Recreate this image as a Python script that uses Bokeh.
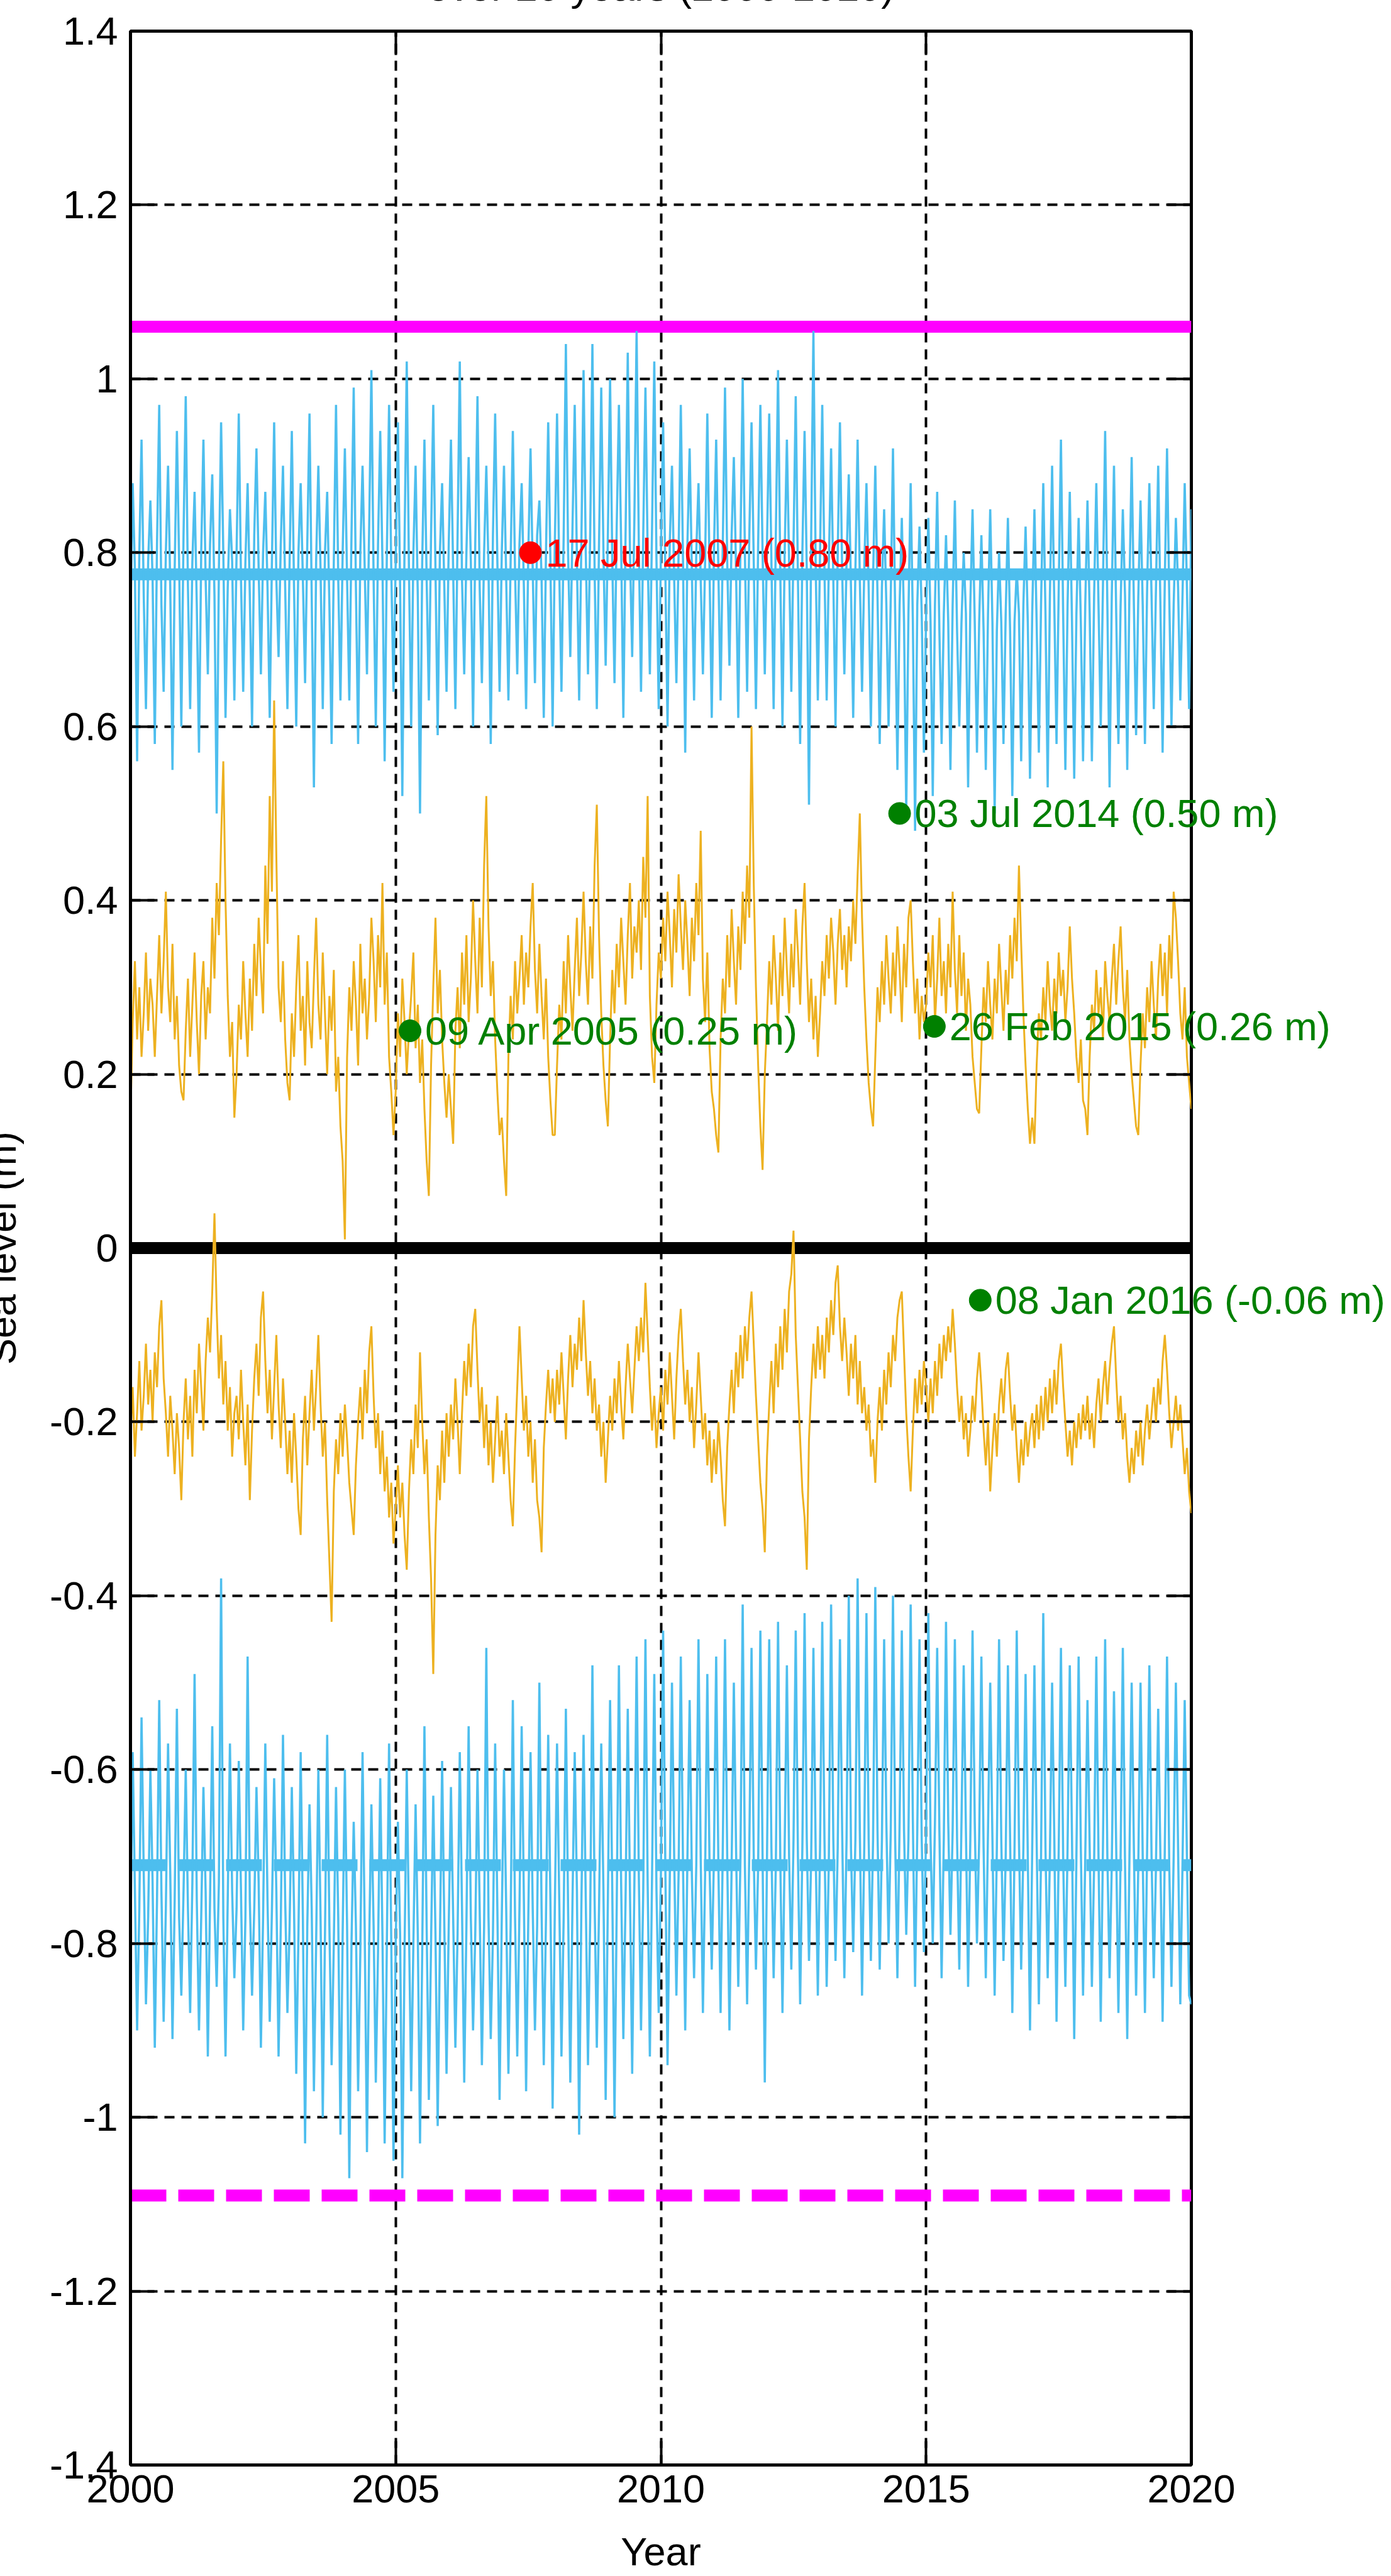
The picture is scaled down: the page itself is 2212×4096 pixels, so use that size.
import numpy as np
from bokeh.plotting import figure
from bokeh.models import (Range1d, FixedTicker, Span, ColumnDataSource, LinearAxis)
from bokeh.core.properties import value
from bokeh.embed import file_html
from bokeh.resources import INLINE

# ---------------- data ----------------
X_TICKS = [2000, 2005, 2010, 2015, 2020]
X_TICK_LABELS = ["2000", "2005", "2010", "2015", "2020"]
Y_TICKS = [-1.4, -1.2, -1.0, -0.8, -0.6, -0.4, -0.2, 0, 0.2, 0.4, 0.6, 0.8, 1.0, 1.2, 1.4]
Y_TICK_LABELS = ["-1.4", "-1.2", "-1", "-0.8", "-0.6", "-0.4", "-0.2", "0",
                 "0.2", "0.4", "0.6", "0.8", "1", "1.2", "1.4"]

START_YEAR = 2000
SAMPLES_PER_YEAR = 24

# upper cyan series (m), one row per year
UPPER_CYAN = [
    0.72, 0.88, 0.78, 0.56, 0.80, 0.93, 0.75, 0.62, 0.79, 0.86, 0.77, 0.58, 0.81, 0.97, 0.74, 0.64, 0.80, 0.90, 0.76, 0.55, 0.78, 0.94, 0.79, 0.60,
    0.82, 0.98, 0.76, 0.62, 0.79, 0.87, 0.74, 0.57, 0.80, 0.93, 0.77, 0.66, 0.81, 0.89, 0.75, 0.50, 0.78, 0.95, 0.80, 0.61, 0.76, 0.85, 0.79, 0.63,
    0.80, 0.96, 0.77, 0.64, 0.79, 0.88, 0.75, 0.60, 0.82, 0.92, 0.78, 0.66, 0.80, 0.87, 0.76, 0.61, 0.79, 0.95, 0.77, 0.68, 0.81, 0.90, 0.76, 0.62,
    0.79, 0.94, 0.76, 0.60, 0.80, 0.88, 0.77, 0.65, 0.81, 0.96, 0.75, 0.53, 0.79, 0.90, 0.78, 0.62, 0.80, 0.87, 0.74, 0.58, 0.79, 0.97, 0.77, 0.63,
    0.80, 0.92, 0.77, 0.63, 0.82, 0.99, 0.76, 0.58, 0.80, 0.90, 0.78, 0.66, 0.83, 1.01, 0.77, 0.60, 0.81, 0.94, 0.79, 0.56, 0.80, 0.97, 0.78, 0.64,
    0.79, 0.95, 0.76, 0.52, 0.81, 1.02, 0.78, 0.60, 0.80, 0.90, 0.75, 0.50, 0.79, 0.93, 0.77, 0.63, 0.82, 0.97, 0.78, 0.59, 0.80, 0.88, 0.76, 0.64,
    0.81, 0.93, 0.78, 0.62, 0.82, 1.02, 0.77, 0.66, 0.80, 0.91, 0.79, 0.60, 0.81, 0.98, 0.76, 0.65, 0.80, 0.90, 0.78, 0.58, 0.82, 0.96, 0.79, 0.64,
    0.80, 0.90, 0.77, 0.63, 0.79, 0.94, 0.78, 0.66, 0.81, 0.88, 0.76, 0.62, 0.80, 0.92, 0.78, 0.65, 0.82, 0.86, 0.77, 0.61, 0.80, 0.95, 0.79, 0.60,
    0.81, 0.96, 0.78, 0.64, 0.82, 1.04, 0.80, 0.68, 0.83, 0.97, 0.79, 0.63, 0.81, 1.01, 0.80, 0.66, 0.82, 1.04, 0.78, 0.62, 0.81, 0.99, 0.80, 0.67,
    0.82, 1.00, 0.79, 0.65, 0.83, 0.97, 0.81, 0.61, 0.82, 1.03, 0.80, 0.68, 0.84, 1.055, 0.81, 0.64, 0.82, 0.99, 0.80, 0.66, 0.83, 1.02, 0.79, 0.62,
    0.80, 0.95, 0.78, 0.60, 0.81, 0.90, 0.77, 0.65, 0.80, 0.97, 0.79, 0.57, 0.81, 0.92, 0.78, 0.63, 0.80, 0.88, 0.77, 0.66, 0.79, 0.96, 0.78, 0.61,
    0.80, 0.93, 0.78, 0.63, 0.81, 0.99, 0.79, 0.67, 0.82, 0.91, 0.78, 0.61, 0.81, 1.00, 0.80, 0.64, 0.82, 0.95, 0.79, 0.62, 0.81, 0.97, 0.80, 0.66,
    0.81, 0.96, 0.79, 0.62, 0.82, 1.01, 0.78, 0.60, 0.80, 0.93, 0.79, 0.64, 0.81, 0.98, 0.77, 0.58, 0.80, 0.94, 0.78, 0.51, 0.82, 1.055, 0.79, 0.63,
    0.80, 0.97, 0.78, 0.63, 0.79, 0.92, 0.77, 0.60, 0.80, 0.95, 0.78, 0.66, 0.79, 0.89, 0.76, 0.61, 0.78, 0.93, 0.77, 0.64, 0.78, 0.88, 0.76, 0.60,
    0.77, 0.90, 0.75, 0.58, 0.76, 0.85, 0.74, 0.60, 0.75, 0.92, 0.73, 0.55, 0.74, 0.84, 0.72, 0.50, 0.73, 0.88, 0.72, 0.48, 0.74, 0.83, 0.73, 0.57,
    0.73, 0.84, 0.72, 0.52, 0.74, 0.87, 0.71, 0.58, 0.73, 0.82, 0.72, 0.55, 0.74, 0.86, 0.71, 0.60, 0.72, 0.80, 0.73, 0.53, 0.74, 0.85, 0.72, 0.57,
    0.72, 0.82, 0.71, 0.55, 0.73, 0.85, 0.72, 0.50, 0.71, 0.80, 0.72, 0.58, 0.73, 0.84, 0.71, 0.52, 0.72, 0.78, 0.73, 0.56, 0.74, 0.83, 0.72, 0.54,
    0.73, 0.85, 0.72, 0.57, 0.74, 0.88, 0.73, 0.53, 0.75, 0.90, 0.74, 0.58, 0.76, 0.93, 0.73, 0.55, 0.74, 0.87, 0.72, 0.54, 0.73, 0.84, 0.72, 0.56,
    0.74, 0.86, 0.73, 0.56, 0.75, 0.88, 0.74, 0.60, 0.76, 0.94, 0.74, 0.53, 0.75, 0.90, 0.73, 0.58, 0.74, 0.85, 0.75, 0.55, 0.76, 0.91, 0.74, 0.59,
    0.75, 0.86, 0.74, 0.58, 0.76, 0.88, 0.75, 0.62, 0.76, 0.90, 0.74, 0.57, 0.77, 0.92, 0.75, 0.60, 0.74, 0.84, 0.76, 0.63, 0.75, 0.88, 0.76, 0.62,
    0.85,
]

# upper orange series (m)
UPPER_ORANGE = [
    0.15, 0.26, 0.33, 0.24, 0.30, 0.22, 0.27, 0.34, 0.25, 0.31, 0.28, 0.22, 0.29, 0.36, 0.27, 0.33, 0.41, 0.30, 0.26, 0.35, 0.24, 0.29, 0.21, 0.18,
    0.17, 0.25, 0.31, 0.22, 0.28, 0.34, 0.26, 0.20, 0.29, 0.33, 0.24, 0.30, 0.27, 0.38, 0.31, 0.42, 0.36, 0.47, 0.56, 0.40, 0.29, 0.22, 0.26, 0.15,
    0.20, 0.28, 0.24, 0.33, 0.27, 0.22, 0.31, 0.25, 0.35, 0.29, 0.38, 0.32, 0.27, 0.44, 0.35, 0.52, 0.41, 0.63, 0.45, 0.30, 0.26, 0.33, 0.24, 0.19,
    0.17, 0.27, 0.22, 0.30, 0.36, 0.25, 0.29, 0.21, 0.33, 0.26, 0.23, 0.31, 0.38, 0.28, 0.24, 0.34, 0.27, 0.20, 0.29, 0.25, 0.32, 0.18, 0.22, 0.14,
    0.10, 0.01, 0.22, 0.30, 0.25, 0.33, 0.28, 0.21, 0.35, 0.27, 0.31, 0.24, 0.29, 0.38, 0.33, 0.26, 0.36, 0.30, 0.42, 0.28, 0.34, 0.22, 0.18, 0.13,
    0.18, 0.27, 0.22, 0.31, 0.26, 0.20, 0.25, 0.29, 0.34, 0.23, 0.28, 0.19, 0.24, 0.16, 0.10, 0.06, 0.21, 0.30, 0.38, 0.27, 0.32, 0.24, 0.19, 0.15,
    0.20, 0.16, 0.12, 0.25, 0.30, 0.23, 0.34, 0.28, 0.36, 0.26, 0.31, 0.40, 0.33, 0.27, 0.38, 0.30, 0.44, 0.52, 0.37, 0.29, 0.33, 0.24, 0.18, 0.13,
    0.15, 0.10, 0.06, 0.22, 0.29, 0.24, 0.33, 0.27, 0.31, 0.36, 0.28, 0.34, 0.30, 0.37, 0.42, 0.32, 0.27, 0.35, 0.29, 0.24, 0.31, 0.22, 0.17, 0.13,
    0.13, 0.21, 0.28, 0.24, 0.33, 0.27, 0.36, 0.30, 0.25, 0.32, 0.38, 0.29, 0.34, 0.41, 0.33, 0.28, 0.37, 0.31, 0.44, 0.51, 0.36, 0.27, 0.21, 0.17,
    0.14, 0.24, 0.32, 0.27, 0.35, 0.30, 0.38, 0.33, 0.28, 0.36, 0.42, 0.31, 0.37, 0.34, 0.40, 0.32, 0.45, 0.38, 0.52, 0.29, 0.22, 0.19, 0.28, 0.34,
    0.31, 0.38, 0.33, 0.41, 0.36, 0.30, 0.39, 0.34, 0.43, 0.37, 0.32, 0.40, 0.35, 0.29, 0.38, 0.33, 0.42, 0.36, 0.48, 0.31, 0.26, 0.34, 0.23, 0.18,
    0.16, 0.13, 0.11, 0.24, 0.31, 0.27, 0.36, 0.30, 0.39, 0.33, 0.28, 0.37, 0.32, 0.41, 0.35, 0.44, 0.38, 0.60, 0.42, 0.30, 0.21, 0.14, 0.09, 0.20,
    0.26, 0.33, 0.28, 0.36, 0.31, 0.25, 0.34, 0.29, 0.38, 0.32, 0.27, 0.35, 0.30, 0.39, 0.34, 0.28, 0.37, 0.42, 0.33, 0.26, 0.31, 0.24, 0.29, 0.22,
    0.27, 0.33, 0.29, 0.36, 0.31, 0.38, 0.34, 0.28, 0.35, 0.39, 0.32, 0.36, 0.30, 0.37, 0.33, 0.40, 0.35, 0.43, 0.50, 0.38, 0.30, 0.24, 0.19, 0.16,
    0.14, 0.22, 0.30, 0.26, 0.33, 0.28, 0.36, 0.31, 0.27, 0.34, 0.29, 0.37, 0.32, 0.26, 0.35, 0.30, 0.38, 0.40, 0.33, 0.27, 0.31, 0.24, 0.29, 0.26,
    0.28, 0.34, 0.30, 0.36, 0.26, 0.31, 0.38, 0.29, 0.33, 0.27, 0.35, 0.30, 0.41, 0.32, 0.27, 0.36, 0.29, 0.34, 0.25, 0.31, 0.28, 0.22, 0.19, 0.16,
    0.155, 0.23, 0.30, 0.26, 0.33, 0.28, 0.24, 0.31, 0.27, 0.35, 0.30, 0.25, 0.32, 0.28, 0.36, 0.31, 0.38, 0.33, 0.44, 0.35, 0.27, 0.21, 0.16, 0.12,
    0.15, 0.12, 0.21, 0.27, 0.24, 0.30, 0.26, 0.33, 0.28, 0.25, 0.31, 0.27, 0.34, 0.29, 0.32, 0.26, 0.30, 0.37, 0.31, 0.27, 0.22, 0.19, 0.24, 0.17,
    0.16, 0.13, 0.22, 0.28, 0.25, 0.32, 0.27, 0.30, 0.24, 0.33, 0.29, 0.26, 0.31, 0.35, 0.28, 0.33, 0.37, 0.30, 0.26, 0.32, 0.24, 0.20, 0.17, 0.14,
    0.13, 0.21, 0.27, 0.23, 0.30, 0.26, 0.33, 0.28, 0.24, 0.31, 0.35, 0.29, 0.34, 0.27, 0.36, 0.31, 0.41, 0.38, 0.33, 0.27, 0.24, 0.30, 0.22, 0.19,
    0.16,
]

# lower orange series (m)
LOWER_ORANGE = [
    -0.22, -0.16, -0.24, -0.19, -0.13, -0.21, -0.17, -0.11, -0.18, -0.14, -0.20, -0.12, -0.16, -0.09, -0.06, -0.15, -0.19, -0.24, -0.17, -0.21, -0.26, -0.19, -0.23, -0.29,
    -0.20, -0.15, -0.22, -0.17, -0.24, -0.14, -0.19, -0.11, -0.16, -0.21, -0.13, -0.08, -0.12, -0.05, 0.04, -0.07, -0.15, -0.10, -0.18, -0.13, -0.21, -0.16, -0.24, -0.19,
    -0.17, -0.22, -0.14, -0.20, -0.25, -0.18, -0.29, -0.21, -0.15, -0.11, -0.17, -0.08, -0.05, -0.13, -0.19, -0.14, -0.22, -0.16, -0.10, -0.18, -0.23, -0.15, -0.20, -0.26,
    -0.21, -0.27, -0.19, -0.24, -0.30, -0.33, -0.22, -0.17, -0.25, -0.19, -0.14, -0.21, -0.16, -0.10, -0.18, -0.24, -0.20, -0.29, -0.36, -0.43, -0.28, -0.22, -0.26, -0.19,
    -0.24, -0.18, -0.22, -0.27, -0.30, -0.33, -0.25, -0.20, -0.16, -0.22, -0.14, -0.19, -0.12, -0.09, -0.17, -0.23, -0.19, -0.26, -0.21, -0.28, -0.24, -0.31, -0.27, -0.34,
    -0.30, -0.25, -0.31, -0.27, -0.33, -0.37, -0.28, -0.22, -0.26, -0.18, -0.23, -0.12, -0.20, -0.26, -0.22, -0.31, -0.38, -0.49, -0.33, -0.25, -0.29, -0.21, -0.27, -0.19,
    -0.24, -0.18, -0.22, -0.15, -0.20, -0.26, -0.19, -0.13, -0.17, -0.11, -0.16, -0.09, -0.07, -0.14, -0.20, -0.16, -0.23, -0.18, -0.25, -0.20, -0.27, -0.22, -0.17, -0.24,
    -0.21, -0.26, -0.19, -0.24, -0.29, -0.32, -0.23, -0.16, -0.09, -0.15, -0.21, -0.17, -0.24, -0.20, -0.27, -0.22, -0.29, -0.31, -0.35, -0.23, -0.18, -0.14, -0.19, -0.15,
    -0.20, -0.14, -0.18, -0.12, -0.17, -0.22, -0.15, -0.10, -0.16, -0.11, -0.14, -0.08, -0.13, -0.06, -0.12, -0.17, -0.13, -0.19, -0.15, -0.21, -0.18, -0.24, -0.20, -0.27,
    -0.22, -0.17, -0.21, -0.15, -0.19, -0.13, -0.18, -0.22, -0.16, -0.11, -0.15, -0.19, -0.14, -0.09, -0.13, -0.08, -0.12, -0.04, -0.10, -0.16, -0.21, -0.17, -0.23, -0.19,
    -0.16, -0.21, -0.14, -0.18, -0.12, -0.17, -0.22, -0.15, -0.10, -0.07, -0.13, -0.18, -0.14, -0.20, -0.16, -0.23, -0.18, -0.12, -0.17, -0.22, -0.19, -0.25, -0.21, -0.27,
    -0.22, -0.26, -0.20, -0.24, -0.29, -0.32, -0.23, -0.18, -0.14, -0.19, -0.12, -0.16, -0.10, -0.15, -0.09, -0.13, -0.08, -0.05, -0.11, -0.17, -0.22, -0.27, -0.30, -0.35,
    -0.24, -0.18, -0.13, -0.19, -0.11, -0.16, -0.09, -0.14, -0.07, -0.12, -0.05, -0.03, 0.02, -0.10, -0.16, -0.22, -0.28, -0.31, -0.37, -0.22, -0.16, -0.11, -0.15, -0.09,
    -0.14, -0.10, -0.15, -0.08, -0.12, -0.06, -0.10, -0.04, -0.02, -0.09, -0.13, -0.08, -0.12, -0.17, -0.11, -0.15, -0.10, -0.18, -0.13, -0.19, -0.16, -0.21, -0.18, -0.24,
    -0.22, -0.27, -0.20, -0.16, -0.21, -0.14, -0.18, -0.12, -0.16, -0.10, -0.13, -0.08, -0.06, -0.05, -0.12, -0.19, -0.24, -0.28, -0.21, -0.15, -0.19, -0.14, -0.18, -0.13,
    -0.16, -0.20, -0.15, -0.19, -0.13, -0.17, -0.11, -0.15, -0.10, -0.13, -0.09, -0.12, -0.07, -0.11, -0.16, -0.20, -0.17, -0.22, -0.19, -0.24, -0.21, -0.17, -0.20, -0.15,
    -0.12, -0.16, -0.21, -0.25, -0.20, -0.28, -0.23, -0.19, -0.24, -0.18, -0.15, -0.19, -0.14, -0.12, -0.17, -0.21, -0.18, -0.23, -0.27, -0.22, -0.25, -0.20, -0.24, -0.21,
    -0.19, -0.23, -0.18, -0.22, -0.17, -0.21, -0.16, -0.20, -0.15, -0.19, -0.14, -0.18, -0.13, -0.11, -0.16, -0.20, -0.24, -0.21, -0.25, -0.20, -0.23, -0.19, -0.22, -0.18,
    -0.21, -0.17, -0.22, -0.19, -0.23, -0.18, -0.15, -0.20, -0.16, -0.13, -0.18, -0.14, -0.11, -0.09, -0.15, -0.20, -0.17, -0.22, -0.19, -0.24, -0.27, -0.23, -0.26, -0.21,
    -0.24, -0.20, -0.25, -0.21, -0.18, -0.22, -0.19, -0.16, -0.20, -0.15, -0.18, -0.13, -0.10, -0.14, -0.19, -0.23, -0.20, -0.17, -0.21, -0.18, -0.22, -0.26, -0.23, -0.28,
    -0.305,
]

# lower cyan series (m)
LOWER_CYAN = [
    -0.80, -0.58, -0.74, -0.90, -0.76, -0.54, -0.72, -0.87, -0.77, -0.60, -0.73, -0.92, -0.75, -0.52, -0.74, -0.89, -0.76, -0.57, -0.72, -0.91, -0.75, -0.53, -0.77, -0.86,
    -0.74, -0.60, -0.76, -0.88, -0.73, -0.49, -0.75, -0.90, -0.77, -0.62, -0.74, -0.93, -0.75, -0.55, -0.76, -0.85, -0.73, -0.38, -0.77, -0.93, -0.75, -0.57, -0.74, -0.84,
    -0.76, -0.59, -0.74, -0.90, -0.77, -0.47, -0.75, -0.86, -0.76, -0.62, -0.73, -0.92, -0.77, -0.57, -0.75, -0.89, -0.76, -0.61, -0.74, -0.93, -0.78, -0.56, -0.75, -0.88,
    -0.78, -0.62, -0.76, -0.95, -0.79, -0.58, -0.77, -1.03, -0.78, -0.64, -0.76, -0.97, -0.80, -0.60, -0.77, -1.00, -0.79, -0.56, -0.78, -0.94, -0.80, -0.62, -0.77, -1.02,
    -0.79, -0.60, -0.78, -1.07, -0.80, -0.66, -0.78, -0.97, -0.81, -0.58, -0.79, -1.04, -0.80, -0.64, -0.78, -0.96, -0.81, -0.61, -0.79, -1.03, -0.80, -0.57, -0.80, -1.05,
    -0.80, -0.66, -0.79, -1.07, -0.81, -0.60, -0.78, -0.97, -0.80, -0.64, -0.79, -1.03, -0.81, -0.55, -0.78, -0.98, -0.80, -0.63, -0.79, -1.01, -0.80, -0.59, -0.78, -0.95,
    -0.78, -0.62, -0.77, -0.92, -0.79, -0.58, -0.76, -0.96, -0.78, -0.55, -0.77, -0.90, -0.79, -0.60, -0.76, -0.94, -0.78, -0.46, -0.77, -0.91, -0.79, -0.57, -0.76, -0.98,
    -0.77, -0.60, -0.76, -0.95, -0.78, -0.52, -0.77, -0.93, -0.76, -0.55, -0.75, -0.97, -0.77, -0.58, -0.76, -0.90, -0.78, -0.50, -0.76, -0.94, -0.77, -0.56, -0.75, -0.99,
    -0.76, -0.57, -0.75, -0.93, -0.77, -0.53, -0.76, -0.96, -0.75, -0.58, -0.74, -1.02, -0.76, -0.56, -0.75, -0.94, -0.77, -0.48, -0.75, -0.92, -0.76, -0.57, -0.74, -0.98,
    -0.75, -0.52, -0.74, -1.00, -0.76, -0.48, -0.73, -0.91, -0.75, -0.53, -0.74, -0.95, -0.73, -0.47, -0.72, -0.90, -0.74, -0.45, -0.73, -0.93, -0.72, -0.49, -0.74, -0.88,
    -0.72, -0.44, -0.71, -0.94, -0.73, -0.50, -0.70, -0.86, -0.72, -0.47, -0.71, -0.90, -0.70, -0.52, -0.72, -0.84, -0.71, -0.45, -0.70, -0.88, -0.72, -0.49, -0.71, -0.83,
    -0.70, -0.47, -0.71, -0.88, -0.69, -0.45, -0.70, -0.90, -0.71, -0.50, -0.69, -0.85, -0.70, -0.41, -0.71, -0.87, -0.69, -0.46, -0.70, -0.83, -0.71, -0.44, -0.70, -0.96,
    -0.70, -0.45, -0.69, -0.84, -0.71, -0.43, -0.70, -0.88, -0.69, -0.48, -0.70, -0.83, -0.68, -0.44, -0.70, -0.87, -0.69, -0.42, -0.68, -0.82, -0.70, -0.46, -0.69, -0.86,
    -0.69, -0.43, -0.68, -0.85, -0.70, -0.41, -0.68, -0.82, -0.69, -0.45, -0.67, -0.84, -0.68, -0.40, -0.69, -0.81, -0.68, -0.38, -0.67, -0.86, -0.69, -0.42, -0.68, -0.82,
    -0.68, -0.39, -0.67, -0.83, -0.68, -0.45, -0.66, -0.80, -0.67, -0.40, -0.68, -0.84, -0.66, -0.44, -0.67, -0.79, -0.68, -0.41, -0.66, -0.85, -0.67, -0.45, -0.68, -0.81,
    -0.67, -0.42, -0.68, -0.80, -0.66, -0.46, -0.67, -0.84, -0.68, -0.43, -0.66, -0.79, -0.67, -0.45, -0.68, -0.83, -0.66, -0.48, -0.67, -0.85, -0.68, -0.44, -0.66, -0.80,
    -0.68, -0.47, -0.69, -0.84, -0.67, -0.50, -0.68, -0.86, -0.69, -0.45, -0.68, -0.82, -0.70, -0.48, -0.68, -0.88, -0.69, -0.44, -0.68, -0.83, -0.69, -0.49, -0.70, -0.90,
    -0.69, -0.48, -0.68, -0.87, -0.70, -0.42, -0.69, -0.84, -0.70, -0.50, -0.68, -0.89, -0.69, -0.46, -0.70, -0.85, -0.69, -0.48, -0.68, -0.91, -0.70, -0.47, -0.69, -0.86,
    -0.70, -0.52, -0.69, -0.85, -0.71, -0.47, -0.70, -0.89, -0.69, -0.45, -0.70, -0.84, -0.71, -0.51, -0.69, -0.88, -0.70, -0.46, -0.71, -0.91, -0.70, -0.50, -0.69, -0.86,
    -0.71, -0.50, -0.70, -0.88, -0.69, -0.48, -0.70, -0.84, -0.71, -0.53, -0.70, -0.89, -0.69, -0.47, -0.71, -0.85, -0.70, -0.50, -0.69, -0.87, -0.71, -0.52, -0.70, -0.86,
    -0.87,
]

# reference levels (m)
LEVEL_MAGENTA_HIGH = 1.06
LEVEL_MAGENTA_LOW = -1.09
LEVEL_CYAN_HIGH = 0.775
LEVEL_CYAN_LOW = -0.71
LEVEL_ZERO = 0.0

# annotated events
EVENT_X = [2007.54, 2014.50, 2005.27, 2015.155, 2016.02]
EVENT_Y = [0.80, 0.50, 0.25, 0.255, -0.06]
EVENT_TEXT = ["17 Jul 2007 (0.80 m)", "03 Jul 2014 (0.50 m)", "09 Apr 2005 (0.25 m)",
              "26 Feb 2015 (0.26 m)", "08 Jan 2016 (-0.06 m)"]
EVENT_COLOR = ["#FF0000", "#008000", "#008000", "#008000", "#008000"]

TITLE_TEXT = "over 20 years (2000-2020)"
X_LABEL = "Year"
Y_LABEL = "Sea level (m)"

# ---------------- styling ----------------
FONT = "Liberation Sans"
FS = "63px"
CYAN = "#4DBEEE"
ORANGE = "#EDB120"
MAGENTA = "#FF00FF"
THICK = 19


def years_for(series):
    return START_YEAR + np.arange(len(series)) / SAMPLES_PER_YEAR


p = figure(width=2212, height=4096,
           x_range=Range1d(X_TICKS[0], X_TICKS[-1]),
           y_range=Range1d(Y_TICKS[0], Y_TICKS[-1]),
           output_backend="svg", toolbar_location=None,
           min_border_left=207, min_border_right=318,
           min_border_top=49, min_border_bottom=177,
           background_fill_color="white", border_fill_color="white")

p.outline_line_color = "black"
p.outline_line_width = 5

# grid
p.xgrid.ticker = FixedTicker(ticks=X_TICKS)
p.ygrid.ticker = FixedTicker(ticks=Y_TICKS)
for g in (p.xgrid[0], p.ygrid[0]):
    g.grid_line_color = "black"
    g.grid_line_width = 4
    g.grid_line_dash = "16 11"

# axes
p.xaxis.ticker = FixedTicker(ticks=X_TICKS)
p.yaxis.ticker = FixedTicker(ticks=Y_TICKS)
p.xaxis.major_label_overrides = {t: s for t, s in zip(X_TICKS, X_TICK_LABELS)}
p.yaxis.major_label_overrides = {t: s for t, s in zip(Y_TICKS, Y_TICK_LABELS)}
for ax in (p.xaxis[0], p.yaxis[0]):
    ax.axis_line_width = 5
    ax.axis_line_color = "black"
    ax.major_tick_in = 38
    ax.major_tick_out = 0
    ax.minor_tick_in = 0
    ax.minor_tick_out = 0
    ax.major_tick_line_width = 4
    ax.major_tick_line_color = "black"
    ax.major_label_text_font = FONT
    ax.major_label_text_font_size = FS
    ax.major_label_text_color = "black"
p.xaxis.major_label_standoff = 16
p.yaxis.major_label_standoff = 20
p.xaxis.axis_label = X_LABEL
p.xaxis.axis_label_text_font = FONT
p.xaxis.axis_label_text_font_size = FS
p.xaxis.axis_label_text_font_style = "normal"
p.xaxis.axis_label_text_color = "black"
p.xaxis.axis_label_standoff = 40

# mirrored ticks on top and right (no labels)
top_ax = LinearAxis(ticker=FixedTicker(ticks=X_TICKS),
                    major_label_overrides={t: "" for t in X_TICKS})
right_ax = LinearAxis(ticker=FixedTicker(ticks=Y_TICKS),
                      major_label_overrides={t: "" for t in Y_TICKS})
for ax in (top_ax, right_ax):
    ax.axis_line_color = None
    ax.major_tick_in = 38
    ax.major_tick_out = 0
    ax.minor_tick_in = 0
    ax.minor_tick_out = 0
    ax.major_tick_line_width = 4
    ax.major_tick_line_color = "black"
    ax.major_label_text_font_size = "1px"
    ax.major_label_standoff = 0
p.add_layout(top_ax, "above")
p.add_layout(right_ax, "right")

# reference levels
p.add_layout(Span(location=LEVEL_ZERO, dimension="width", line_color="black",
                  line_width=THICK, level="underlay"))
p.add_layout(Span(location=LEVEL_MAGENTA_HIGH, dimension="width", line_color=MAGENTA,
                  line_width=THICK, level="underlay"))
p.add_layout(Span(location=LEVEL_MAGENTA_LOW, dimension="width", line_color=MAGENTA,
                  line_width=THICK, line_dash="57 19", level="underlay"))
p.add_layout(Span(location=LEVEL_CYAN_HIGH, dimension="width", line_color=CYAN,
                  line_width=THICK, level="underlay"))
p.add_layout(Span(location=LEVEL_CYAN_LOW, dimension="width", line_color=CYAN,
                  line_width=THICK, line_dash="57 19", level="underlay"))

# series
p.line(years_for(UPPER_CYAN), UPPER_CYAN, line_color=CYAN, line_width=3.5)
p.line(years_for(LOWER_CYAN), LOWER_CYAN, line_color=CYAN, line_width=3.5)
p.line(years_for(UPPER_ORANGE), UPPER_ORANGE, line_color=ORANGE, line_width=3)
p.line(years_for(LOWER_ORANGE), LOWER_ORANGE, line_color=ORANGE, line_width=3)

# events
ev = ColumnDataSource(dict(x=EVENT_X, y=EVENT_Y, text=EVENT_TEXT, color=EVENT_COLOR))
p.scatter("x", "y", source=ev, size=35, marker="circle", fill_color="color",
          line_color="color")
p.text(x="x", y="y", text="text", source=ev, x_offset=24,
       text_color="color", text_font=value(FONT), text_font_size=value(FS),
       text_baseline="middle", text_align="left", level="annotation")

# partially visible title (cut at the top edge, as in the original)
ttl = ColumnDataSource(dict(x=[(X_TICKS[0] + X_TICKS[-1]) / 2], y=[1.4509], text=[TITLE_TEXT]))
p.text(x="x", y="y", text="text", source=ttl, text_align="center",
       text_baseline="alphabetic", text_font=value(FONT), text_font_size=value(FS),
       text_color="black", level="annotation")

# partially visible y label (cut at the left edge, as in the original)
ylab = ColumnDataSource(dict(x=[1997.57], y=[0.0], text=[Y_LABEL]))
p.text(x="x", y="y", text="text", source=ylab, angle=np.pi / 2,
       text_align="center", text_baseline="alphabetic", text_font=value(FONT),
       text_font_size=value(FS), text_color="black", level="annotation")

open("out.html", "w").write(file_html(p, INLINE))
